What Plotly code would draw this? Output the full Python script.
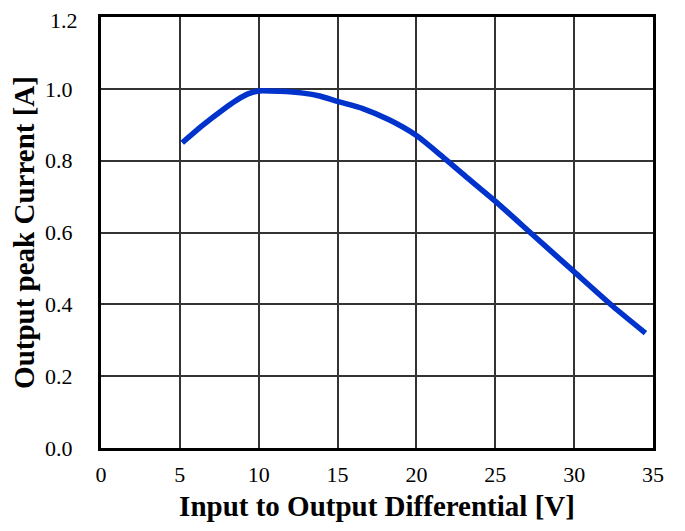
import plotly.graph_objects as go

x_vals = [5.15, 6.46, 7.73, 8.58, 9.32, 10.0, 11.33, 12.81, 13.87, 15.0, 16.6, 18.3, 20.0, 21.63, 23.1, 25.03, 27.39, 29.99, 32.47, 34.52]
y_vals = [0.850, 0.899, 0.942, 0.968, 0.986, 0.994, 0.993, 0.988, 0.980, 0.965, 0.945, 0.913, 0.870, 0.812, 0.757, 0.686, 0.593, 0.491, 0.394, 0.320]

x_ticks = [0, 5, 10, 15, 20, 25, 30, 35]
y_ticks = [0.0, 0.2, 0.4, 0.6, 0.8, 1.0, 1.2]

font_family = "Liberation Serif, Times New Roman, serif"

fig = go.Figure()
fig.add_trace(go.Scatter(
    x=x_vals, y=y_vals, mode="lines",
    line=dict(color="#0033cc", width=5.5, shape="spline", smoothing=0.6),
    showlegend=False, hoverinfo="skip",
))

fig.update_layout(
    width=685, height=531,
    margin=dict(l=93, r=40, t=9, b=91),
    paper_bgcolor="white", plot_bgcolor="white",
    font=dict(family=font_family, color="black", size=22),
)
fig.update_xaxes(
    range=[0, 35], tickvals=x_ticks, ticktext=[str(v) for v in x_ticks],
    showgrid=True, gridcolor="#333333", gridwidth=1.5,
    showline=True, linecolor="black", linewidth=3, mirror=True,
    zeroline=False, ticks="", ticklabelstandoff=5, automargin=False,
    tickfont=dict(size=22, family=font_family),
    title=dict(text="<b>Input to Output Differential [V]</b>", font=dict(size=29, family=font_family), standoff=10),
)
fig.update_yaxes(
    range=[0, 1.2], tickvals=y_ticks, ticktext=[f"{v:.1f}" for v in y_ticks],
    showgrid=True, gridcolor="#333333", gridwidth=1.5,
    showline=True, linecolor="black", linewidth=3, mirror=True,
    zeroline=False, ticks="", ticklabelstandoff=21, automargin=False,
    tickfont=dict(size=22, family=font_family),
    title=dict(text="<b>Output peak Current [A]</b>", font=dict(size=29, family=font_family), standoff=12),
)

# top tick label (would otherwise be clipped at the paper edge)
fig.add_annotation(
    x=0, xref="paper", y=y_ticks[-1], yref="y",
    text=f"{y_ticks[-1]:.1f}", showarrow=False,
    xanchor="right", yanchor="middle", xshift=-21, yshift=-3,
    font=dict(size=22, family=font_family, color="black"),
)

fig.write_html("out.html")
